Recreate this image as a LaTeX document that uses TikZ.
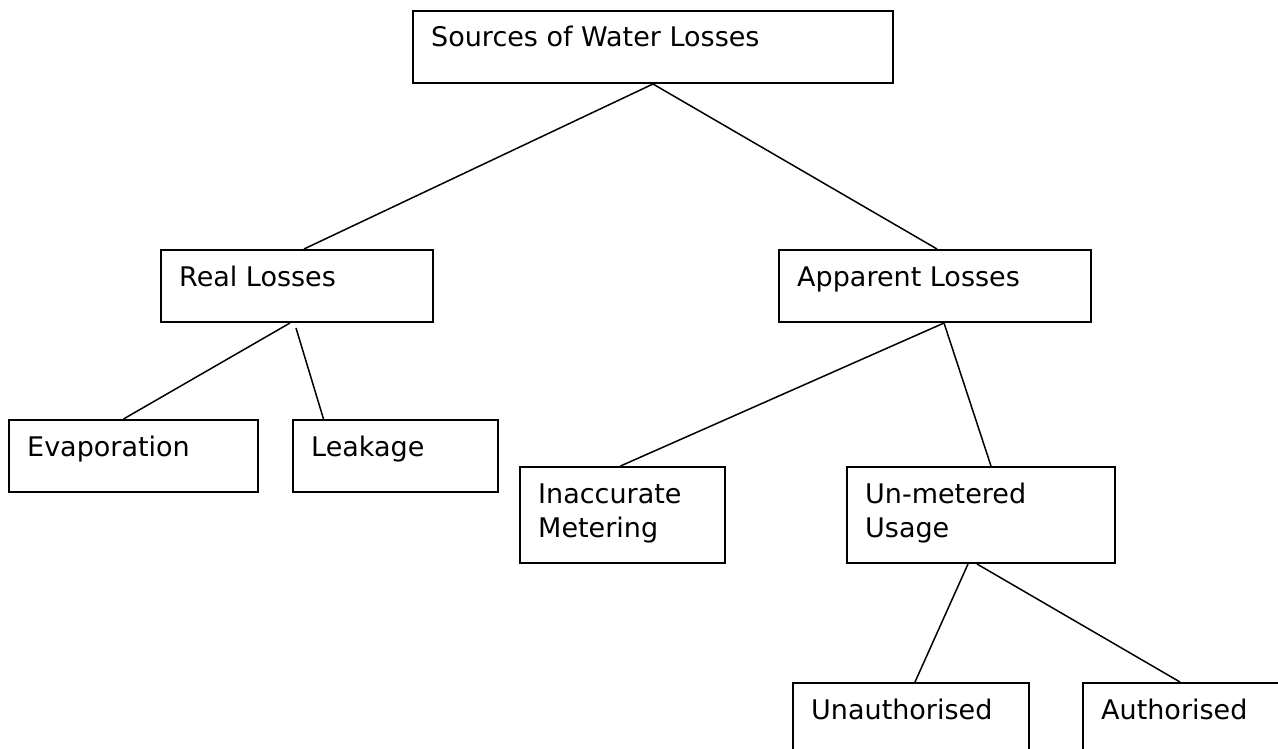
\documentclass[tikz,border=0pt]{standalone}
\usepackage{fontspec}
\setmainfont{DejaVu Sans}
\begin{document}
\begin{tikzpicture}[x=1pt, y=-1pt,
  box/.style={draw, line width=2pt, inner sep=0pt, anchor=north west},
  lbl/.style={anchor=base west, inner sep=0pt, align=left, font=\fontsize{27}{34}\selectfont},
  link/.style={line width=1.5pt}]
  \clip (0,0) rectangle (1278,749);
  % boxes
  \node[box, minimum width=480pt, minimum height=72pt] (src) at (412,10) {};
  \node[box, minimum width=272pt, minimum height=72pt] (real) at (160,249) {};
  \node[box, minimum width=312pt, minimum height=72pt] (app) at (778,249) {};
  \node[box, minimum width=249pt, minimum height=72pt] (evap) at (8,419) {};
  \node[box, minimum width=205pt, minimum height=72pt] (leak) at (292,419) {};
  \node[box, minimum width=205pt, minimum height=96pt] (inac) at (519,466) {};
  \node[box, minimum width=268pt, minimum height=96pt] (unmet) at (846,466) {};
  \node[box, minimum width=236pt, minimum height=72pt] (unauth) at (792,682) {};
  \node[box, minimum width=200pt, minimum height=72pt] (auth) at (1082,682) {};
  % labels (base is the last line)
  \node[lbl] (srct) at ([shift={(19pt,-37pt)}]src.north west) {Sources of Water Losses};
  \node[lbl] (realt) at ([shift={(19pt,-37pt)}]real.north west) {Real Losses};
  \node[lbl] (appt) at ([shift={(19pt,-37pt)}]app.north west) {Apparent Losses};
  \node[lbl] (evapt) at ([shift={(19pt,-37pt)}]evap.north west) {Evaporation};
  \node[lbl] (leakt) at ([shift={(19pt,-37pt)}]leak.north west) {Leakage};
  \node[lbl] (inact) at ([shift={(19pt,-71pt)}]inac.north west) {Inaccurate\\Metering};
  \node[lbl] (unmett) at ([shift={(19pt,-71pt)}]unmet.north west) {Un-metered\\Usage};
  \node[lbl] (unautht) at ([shift={(19pt,-37pt)}]unauth.north west) {Unauthorised};
  \node[lbl] (autht) at ([shift={(19pt,-37pt)}]auth.north west) {Authorised};
  % links
  \draw[link] (src.south) -- ([xshift=7pt]real.north);
  \draw[link] (src.south) -- ([xshift=2pt]app.north);
  \draw[link] ([xshift=-7pt]real.south) -- ([xshift=-10pt]evap.north);
  \draw[link] ([shift={(-1pt,-5pt)}]real.south) -- ([xshift=-72pt]leak.north);
  \draw[link] ([xshift=9pt]app.south) -- ([xshift=-2pt]inac.north);
  \draw[link] ([xshift=9pt]app.south) -- ([xshift=10pt]unmet.north);
  \draw[link] ([xshift=-13pt]unmet.south) -- ([xshift=4pt]unauth.north);
  \draw[link] ([xshift=-4pt]unmet.south) -- ([xshift=-3pt]auth.north);
\end{tikzpicture}
\end{document}
